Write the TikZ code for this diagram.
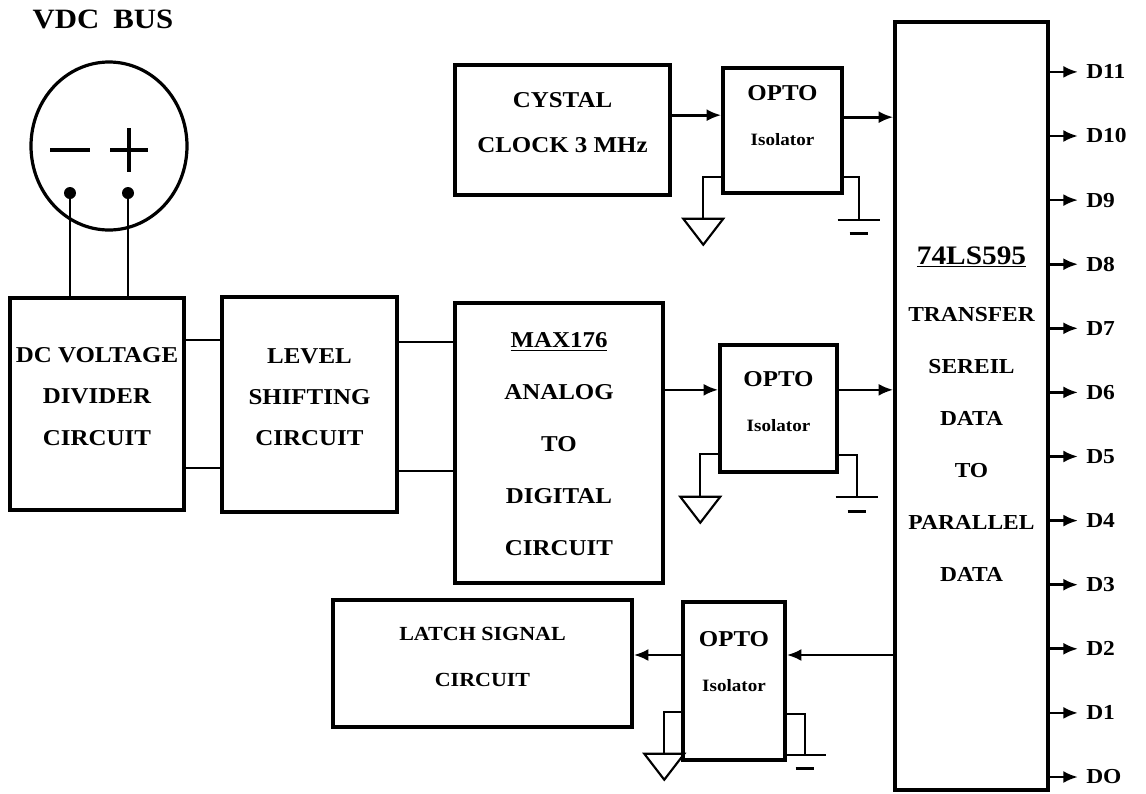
\documentclass[tikz,border=0pt]{standalone}
\usepackage{fontspec}
\setmainfont{Liberation Serif}[FakeStretch=1.1]
\usetikzlibrary{arrows.meta,fit}

\tikzset{
  box/.style={draw, line width=2.6pt, inner sep=0pt, align=center,
    font=\bfseries\fontsize{17}{31}\selectfont},
  optobox/.style={draw, line width=2.6pt, inner sep=0pt},
  boxtext/.style={align=center, font=\bfseries\fontsize{17}{39}\selectfont},
  optotext/.style={align=center, font=\bfseries\fontsize{17}{34}\selectfont},
  wire/.style={line width=1.8pt},
  sig/.style={line width=2pt, -{Latex[length=11pt,width=9pt]}},
  gnd/.style={line width=1.6pt},
  outlabel/.style={anchor=west, inner xsep=6pt, font=\bfseries\fontsize{16}{16}\selectfont},
  dot/.style={circle, fill, inner sep=0pt, minimum size=9pt},
  gndtri/.pic={\draw[gnd] (-20,0) -- (20,0) -- (0,26) -- cycle;},
  gndbar/.pic={\draw[gnd] (-21,0) -- (21,0); \draw[line width=2.2pt] (-9,14) -- (9,14);}
}

\begin{document}
\begin{tikzpicture}[x=0.75pt,y=-0.75pt]
  \useasboundingbox (0,0) rectangle (1146,793);
  % supply
  \node[anchor=base west, font=\bfseries\fontsize{21}{21}\selectfont] (title) at (28,28) {VDC\hspace{0.5em}BUS};
  \draw[line width=2.4pt] (109,146) ellipse [x radius=58.5pt, y radius=63pt];
  \draw[line width=3pt] (50,150) -- (90,150) (110,150) -- (148,150) (129,128) -- (129,172);
  \node[dot] (neg) at (70,193) {};
  \node[dot] (pos) at (128,193) {};

  % blocks
  \node[box, fit={(10,298) (184,510)}] (divider) {DC VOLTAGE\\DIVIDER\\CIRCUIT};
  \node[box, fit={(222,297) (397,512)}] (shifter) {LEVEL\\SHIFTING\\CIRCUIT};
  \node[box, fit={(455,65) (670,195)}, font=\bfseries\fontsize{17}{34}\selectfont] (crystal)
    {CYSTAL\\CLOCK 3 MHz};
  \node[box, fit={(333,600) (632,727)}, font=\bfseries\fontsize{15}{35}\selectfont] (latch)
    {LATCH SIGNAL\\CIRCUIT};
  \node[optobox, fit={(455,303) (663,583)}] (adc) {};
  \node[optobox, fit={(895,22) (1048,790)}] (chip) {};
  \node[boxtext] (adctxt) at ([yshift=-1pt]adc.center)
    {\underline{MAX176}\\ANALOG\\TO\\DIGITAL\\CIRCUIT};
  \node[boxtext, font=\bfseries\fontsize{16}{39}\selectfont] (chiptxt) at ([yshift=-6pt]chip.center)
    {{\fontsize{20}{39}\selectfont\underline{74LS595}}\\[4pt]TRANSFER\\SEREIL\\DATA\\TO\\PARALLEL\\DATA};

  \node[optobox, fit={(723,68) (842,193)}] (opto1) {};
  \node[optobox, fit={(720,345) (837,472)}] (opto2) {};
  \node[optobox, fit={(683,602) (785,760)}] (opto3) {};
  \node[optotext] (opto1txt) at ([yshift=11pt]opto1.center) {OPTO\\{\fontsize{13}{34}\selectfont Isolator}};
  \node[optotext] (opto2txt) at ([yshift=5pt]opto2.center) {OPTO\\{\fontsize{13}{34}\selectfont Isolator}};
  \node[optotext] (opto3txt) at ([yshift=14.5pt]opto3.center) {OPTO\\{\fontsize{13}{34}\selectfont Isolator}};

  % wiring
  \draw[wire] (neg) -- (neg |- divider.north);
  \draw[wire] (pos) -- (pos |- divider.north);
  \coordinate (dv1) at ([yshift=48pt]divider.east);
  \coordinate (dv2) at ([yshift=-48pt]divider.east);
  \draw[wire] (dv1) -- (dv1 -| shifter.west);
  \draw[wire] (dv2) -- (dv2 -| shifter.west);
  \coordinate (sh1) at ([yshift=47pt]shifter.east);
  \coordinate (sh2) at ([yshift=-50pt]shifter.east);
  \draw[wire] (sh1) -- (sh1 -| adc.west);
  \draw[wire] (sh2) -- (sh2 -| adc.west);

  \coordinate (c1) at ([yshift=11.5pt]opto1.west);
  \draw[sig] (c1 -| crystal.east) -- (c1);
  \coordinate (c2) at ([yshift=10pt]opto1.east);
  \draw[sig] (c2) -- (c2 -| chip.west);
  \coordinate (a1) at ([yshift=14pt]opto2.west);
  \draw[sig] (a1 -| adc.east) -- (a1);
  \draw[sig] (a1 -| opto2.east) -- (a1 -| chip.west);
  \coordinate (l1) at ([yshift=19.5pt]opto3.east);
  \draw[sig] (l1 -| chip.west) -- (l1);
  \draw[sig] (l1 -| opto3.west) -- (l1 -| latch.east);

  % grounds
  \draw[gnd] ([yshift=13.5pt]opto1.south west) -- ++(-18,0) -- ++(0,42) pic {gndtri};
  \draw[gnd] ([yshift=13.5pt]opto1.south east) -- ++(15,0) -- ++(0,43) pic {gndbar};
  \draw[gnd] ([yshift=15pt]opto2.south west) -- ++(-18,0) -- ++(0,43) pic {gndtri};
  \draw[gnd] ([yshift=14pt]opto2.south east) -- ++(18,0) -- ++(0,42) pic {gndbar};
  \draw[gnd] ([yshift=37.5pt]opto3.south west) -- ++(-17,0) -- ++(0,42) pic {gndtri};
  \draw[gnd] ([yshift=36pt]opto3.south east) -- ++(18,0) -- ++(0,41) pic {gndbar};

  % parallel outputs
  \foreach \lbl [count=\i from 0] in {DO,D1,D2,D3,D4,D5,D6,D7,D8,D9,D10,D11} {
    \node[outlabel] (d\i) at (1078,{777-64.1*\i}) {\lbl};
    \draw[sig] (d\i.west -| chip.east) -- (d\i.west);
  }
\end{tikzpicture}
\end{document}
